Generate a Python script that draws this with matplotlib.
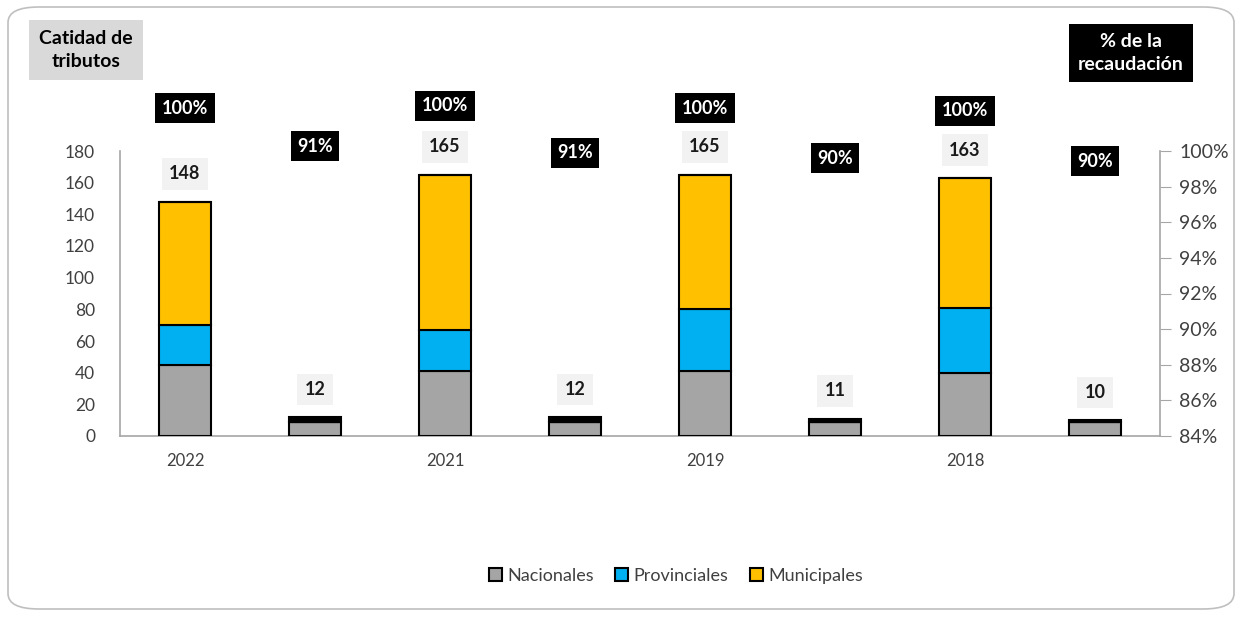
import matplotlib
matplotlib.use("Agg")
import matplotlib.pyplot as plt
import matplotlib.transforms as mtransforms
from matplotlib.patches import FancyBboxPatch, Patch
from matplotlib.ticker import PercentFormatter
import numpy as np

plt.rcParams['font.family'] = ['Lato', 'DejaVu Sans']

# ---- data ----
slots = ["2022", "", "2021", "", "2019", "", "2018", ""]
nacionales = [45, 9, 41, 9, 41, 9, 40, 9]
provinciales = [25, 0, 26, 0, 39, 0, 41, 0]
municipales = [78, 0, 98, 0, 85, 0, 82, 0]
otros = [0, 3, 0, 3, 0, 2, 0, 1]
totales = [148, 12, 165, 12, 165, 11, 163, 10]
pct_labels = ["100%", "91%", "100%", "91%", "100%", "90%", "100%", "90%"]

# ---- layout ----
W, H = 1242, 617
pct_label_y_px = [108, 146, 106, 153, 108, 158, 111, 161]

fig = plt.figure(figsize=(W / 100, H / 100), dpi=100)
ax = fig.add_axes([120 / W, 1 - 436 / H, (1160 - 120) / W, (436 - 151) / H])

x = np.arange(len(slots))
wd = 0.4
ec = "black"
lw = 1.5
nac = np.array(nacionales)
prov = np.array(provinciales)
mun = np.array(municipales)
ot = np.array(otros)
ax.bar(x, nac, wd, color="#a5a5a5", edgecolor=ec, linewidth=lw, zorder=3)
ax.bar(x, prov, wd, bottom=nac, color="#00b0f0", edgecolor=ec, linewidth=lw, zorder=3)
ax.bar(x, mun, wd, bottom=nac + prov, color="#ffc000", edgecolor=ec, linewidth=lw, zorder=3)
ax.bar(x, ot, wd, bottom=nac + prov + mun, color="black", edgecolor=ec, linewidth=lw, zorder=3)

ax.set_xlim(-0.5, len(slots) - 0.5)
ax.set_ylim(0, 180)
ax.set_yticks(np.arange(0, 181, 20))
ax.set_xticks(x)
ax.set_xticklabels(slots)
ax.tick_params(axis="x", length=0, labelsize=12, colors="#404040", pad=12)
ax.tick_params(axis="y", length=0, labelsize=12.5, colors="#404040", pad=18)
for s in ["top", "right"]:
    ax.spines[s].set_visible(False)
ax.spines["left"].set_color("#a6a6a6")
ax.spines["bottom"].set_color("#a6a6a6")
ax.spines["left"].set_linewidth(1.2)
ax.spines["bottom"].set_linewidth(1.2)

ax2 = ax.twinx()
ax2.set_ylim(0.84, 1.00)
ax2.set_yticks(np.arange(0.84, 1.001, 0.02))
ax2.yaxis.set_major_formatter(PercentFormatter(1.0, decimals=0))
ax2.tick_params(axis="y", direction="out", length=8, color="#a6a6a6", labelsize=14, labelcolor="#404040", pad=6)
for s in ["top", "left", "bottom"]:
    ax2.spines[s].set_visible(False)
ax2.spines["right"].set_color("#a6a6a6")
ax2.spines["right"].set_linewidth(1.2)

# totals labels
for xi, t, top in zip(x, totales, nac + prov + mun + ot):
    ax.annotate(str(t), (xi, top), xytext=(0, 20), textcoords="offset points",
                ha="center", va="center", fontsize=13, fontweight="bold", color="#1a1a1a",
                bbox=dict(boxstyle="square,pad=0.4", fc="#f2f2f2", ec="none"), zorder=5)

# percentage labels
trans = mtransforms.blended_transform_factory(ax.transData, fig.transFigure)
for xi, lab, ypx in zip(x, pct_labels, pct_label_y_px):
    ax.text(xi, 1 - ypx / H, lab, transform=trans, ha="center", va="center",
            fontsize=13, fontweight="bold", color="white",
            bbox=dict(boxstyle="square,pad=0.35", fc="black", ec="none"), zorder=5)

# corner boxes
fig.text(86 / W, 1 - 50 / H, "Catidad de\ntributos", ha="center", va="center",
         fontsize=14, fontweight="bold", color="black", linespacing=1.45,
         bbox=dict(boxstyle="square,pad=0.5", fc="#d9d9d9", ec="none"))
fig.text(1131 / W, 1 - 53 / H, "% de la\nrecaudación", ha="center", va="center",
         fontsize=14, fontweight="bold", color="white", linespacing=1.45,
         bbox=dict(boxstyle="square,pad=0.45", fc="black", ec="none"))

# legend
handles = [Patch(fc="#a5a5a5", ec="black", lw=1.5, label="Nacionales"),
           Patch(fc="#00b0f0", ec="black", lw=1.5, label="Provinciales"),
           Patch(fc="#ffc000", ec="black", lw=1.5, label="Municipales")]
fig.legend(handles=handles, loc="center", bbox_to_anchor=(676 / W, 1 - 576 / H), ncol=3,
           frameon=False, fontsize=13, handlelength=0.7, handleheight=0.7,
           handletextpad=0.3, columnspacing=1.2, labelcolor="#404040")

# outer frame
frame = FancyBboxPatch((8 / W, 8 / H), (1234 - 8) / W, (610 - 8) / H,
                       boxstyle="round,pad=0,rounding_size=0.025", transform=fig.transFigure,
                       fc="none", ec="#bfbfbf", lw=1.2)
fig.patches.append(frame)

fig.savefig("out.png", dpi=100)
